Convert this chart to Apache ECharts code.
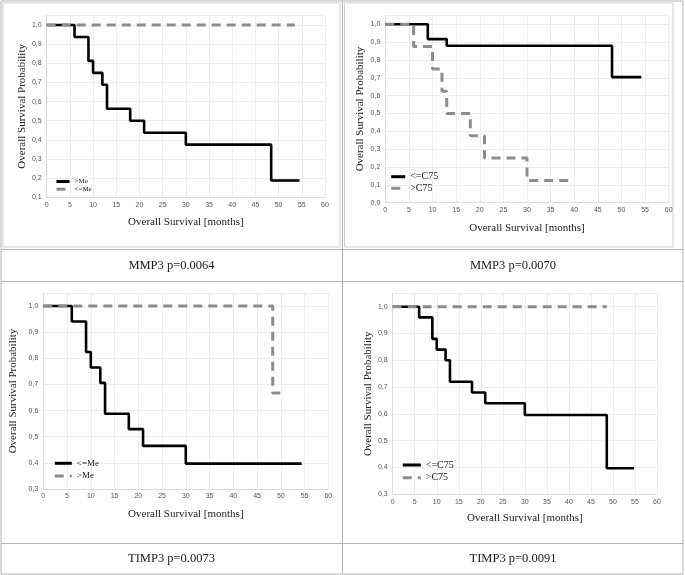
<!DOCTYPE html>
<html><head><meta charset="utf-8">
<script src="https://cdn.jsdelivr.net/npm/echarts@6/dist/echarts.min.js"></script>
<style>html,body{margin:0;padding:0;background:#fff}#c{width:685px;height:575px}</style>
</head><body><div id="c"></div>
<script>
// ---- data ----
// Panel 1: MMP3 (median split)
const p1HiTimes = [0, 6, 9, 10, 12, 13, 18, 21, 30, 48.4, 54.5];
const p1HiSurv  = [1, 0.9375, 0.8125, 0.75, 0.6875, 0.5625, 0.5, 0.4375, 0.375, 0.1875, 0.1875];
const p1LoTimes = [0, 53.5];
const p1LoSurv  = [1, 1];
// Panel 2: MMP3 (C75 split)
const p2LeTimes = [0, 9, 13, 48, 54.2];
const p2LeSurv  = [1, 0.917, 0.88, 0.704, 0.704];
const p2GtTimes = [0, 6, 10, 12, 13, 18, 21, 30, 39.2];
const p2GtSurv  = [1, 0.875, 0.75, 0.625, 0.5, 0.375, 0.25, 0.125, 0.125];
// Panel 3: TIMP3 (median split)
const p3LeTimes = [0, 6, 9, 10, 12, 13, 18, 21, 30, 54.4];
const p3LeSurv  = [1, 0.941, 0.824, 0.765, 0.706, 0.588, 0.529, 0.465, 0.397, 0.397];
const p3GtTimes = [0, 48.3, 50.5];
const p3GtSurv  = [1, 0.667, 0.667];
// Panel 4: TIMP3 (C75 split)
const p4LeTimes = [0, 6, 9, 10, 12, 13, 18, 21, 30, 48.6, 54.8];
const p4LeSurv  = [1, 0.96, 0.88, 0.84, 0.80, 0.72, 0.68, 0.64, 0.596, 0.397, 0.397];
const p4GtTimes = [0, 48.6];
const p4GtSurv  = [1, 1];

const panelTitles = ['MMP3 p=0.0064', 'MMP3 p=0.0070', 'TIMP3 p=0.0073', 'TIMP3 p=0.0091'];
const legendNames = [['>Me', '<=Me'], ['<=C75', '>C75'], ['<=Me', '>Me'], ['<=C75', '>C75']];
const xTitle = 'Overall Survival [months]';
const yTitle = 'Overall Survival Probability';

// ---- build ----
const zip = (t, s) => t.map((v, i) => [v, s[i]]);
const serif = 'Liberation Serif, Times New Roman, serif';
const sans = 'Liberation Sans, Arial, sans-serif';

const grids = [
  {left: 46.7, top: 15.4, width: 278.3, height: 181.9},
  {left: 385.3, top: 15.4, width: 283.4, height: 187.3},
  {left: 43.3, top: 293, width: 285, height: 196},
  {left: 392.7, top: 293.3, width: 264.3, height: 201}
];
const yMins = [0.1, 0, 0.3, 0.3];
const yNameGaps = [18.5, 19.5, 24.5, 17];
const xNameGaps = [19, 19.5, 20, 18.5];

const yFmt = v => {
  if (Math.abs(v * 10 - Math.round(v * 10)) > 1e-6) return '';
  return v.toFixed(1).replace('.', ',');
};

const xAxes = grids.map((g, i) => ({
  gridIndex: i, type: 'value', min: 0, max: 60, interval: 5,
  name: xTitle, nameLocation: 'middle', nameGap: xNameGaps[i],
  nameTextStyle: {fontFamily: serif, fontSize: 11, color: '#222'},
  axisLine: {show: true, lineStyle: {color: '#dcdcdc', width: 1}},
  axisTick: {show: false},
  axisLabel: {fontFamily: sans, fontSize: 7, color: '#555', margin: 4},
  splitLine: {show: true, lineStyle: {color: '#ededed', width: 1}}
}));
const yAxes = grids.map((g, i) => ({
  gridIndex: i, type: 'value', min: yMins[i], max: 1.05, interval: 0.1,
  name: yTitle, nameLocation: 'middle', nameGap: yNameGaps[i],
  nameTextStyle: {fontFamily: serif, fontSize: 11, color: '#222'},
  axisLine: {show: true, lineStyle: {color: '#dcdcdc', width: 1}},
  axisTick: {show: false},
  axisLabel: {fontFamily: sans, fontSize: 7, color: '#555', margin: 5, formatter: yFmt},
  splitLine: {show: true, lineStyle: {color: '#ededed', width: 1}}
}));

const solid = {color: '#000', width: 2.6, type: 'solid'};
const dashed = {color: '#8c8c8c', width: 3, type: [9, 6]};
function km(name, idx, data, style) {
  return {
    name: name, type: 'line', xAxisIndex: idx, yAxisIndex: idx, step: 'end',
    data: data, showSymbol: false, symbol: 'none', lineStyle: style,
    itemStyle: {color: style.color}, animation: false, silent: true
  };
}
const series = [
  km('p1|' + legendNames[0][0], 0, zip(p1HiTimes, p1HiSurv), solid),
  km('p1|' + legendNames[0][1], 0, zip(p1LoTimes, p1LoSurv), dashed),
  km('p2|' + legendNames[1][0], 1, zip(p2LeTimes, p2LeSurv), solid),
  km('p2|' + legendNames[1][1], 1, zip(p2GtTimes, p2GtSurv), dashed),
  km('p3|' + legendNames[2][0], 2, zip(p3LeTimes, p3LeSurv), solid),
  km('p3|' + legendNames[2][1], 2, zip(p3GtTimes, p3GtSurv), dashed),
  km('p4|' + legendNames[3][0], 3, zip(p4LeTimes, p4LeSurv), solid),
  km('p4|' + legendNames[3][1], 3, zip(p4GtTimes, p4GtSurv), dashed)
];

const legPos = [
  {left: 55, top: 178, w: 13, fs: 7, gap: 0.7},
  {left: 389.7, top: 171.7, w: 14, fs: 10, gap: 1.6},
  {left: 53.3, top: 458.8, w: 17, fs: 9, gap: 3.7},
  {left: 401.3, top: 460, w: 18, fs: 10, gap: 2.7}
];
const legends = legPos.map((p, i) => ({
  orient: 'vertical', left: p.left, top: p.top, padding: 0,
  itemWidth: p.w, itemHeight: 3, itemGap: p.gap,
  data: legendNames[i].map(n => 'p' + (i + 1) + '|' + n),
  formatter: n => n.split('|')[1],
  textStyle: {fontFamily: serif, fontSize: p.fs, color: '#222'},
  lineStyle: {width: 3}, itemStyle: {opacity: 0}, selectedMode: false
}));

// table frame and cell labels
const tableColor = '#b4b4b4';
const frameColor = '#cfcfcf';
const hLines = [1, 249.5, 281.5, 543.5, 574];
const graphics = [];
hLines.forEach(y => graphics.push({type: 'line', shape: {x1: 1, y1: y, x2: 683, y2: y}, style: {stroke: tableColor, lineWidth: 1}}));
[1, 342.5, 683].forEach(x => graphics.push({type: 'line', shape: {x1: x, y1: 1, x2: x, y2: 574}, style: {stroke: tableColor, lineWidth: 1}}));
graphics.push({type: 'rect', shape: {x: 3, y: 3, width: 337, height: 244}, style: {fill: 'none', stroke: frameColor, lineWidth: 1}});
graphics.push({type: 'rect', shape: {x: 344.5, y: 3, width: 328.5, height: 244}, style: {fill: 'none', stroke: frameColor, lineWidth: 1}});
const labelPos = [[171.5, 266], [513, 266], [171.5, 559], [513, 559]];
labelPos.forEach((p, i) => graphics.push({
  type: 'text', x: p[0], y: p[1],
  style: {text: panelTitles[i], fontFamily: serif, fontSize: 12.5, fill: '#1a1a1a', textAlign: 'center', textVerticalAlign: 'middle'}
}));

const chart = echarts.init(document.getElementById('c'), null, {renderer: 'canvas'});
chart.setOption({
  backgroundColor: '#fff',
  animation: false,
  grid: grids.map(g => Object.assign({containLabel: false, outerBoundsMode: 'none'}, g)),
  xAxis: xAxes,
  yAxis: yAxes,
  legend: legends,
  series: series,
  graphic: graphics
});
</script></body></html>
